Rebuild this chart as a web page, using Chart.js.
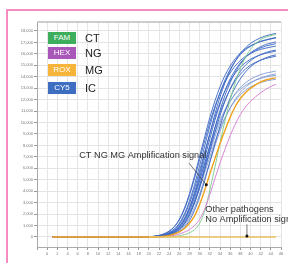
<!DOCTYPE html>
<html>
<head>
<meta charset="utf-8">
<script src="https://cdn.jsdelivr.net/npm/chart.js@4.4.1/dist/chart.umd.min.js"></script>
<style>
  html,body{margin:0;padding:0;background:#fff;width:288px;height:263px;overflow:hidden;}
  #frame{position:absolute;left:6px;top:9px;width:300px;height:270px;border-left:2px solid #f48cc2;border-top:2px solid #f48cc2;box-sizing:border-box;}
  #c{position:absolute;left:0;top:0;}
  .lg{position:absolute;left:48px;width:28px;height:12px;color:#fff;font:8px "Liberation Sans",Arial,sans-serif;line-height:12px;text-align:center;}
  .lt{position:absolute;left:85px;color:#222;font:11px "Liberation Sans",Arial,sans-serif;line-height:12px;}
</style>
</head>
<body>
<div id="frame"></div>
<canvas id="c" width="288" height="263"></canvas>
<div id="legend"></div>
<script>
// ---- data ----
const CYCLES = [1,20,21,22,23,24,25,26,27,28,29,30,31,32,33,34,35,36,37,38,39,40,41,42,43,44,45];
const X_TICK_START = -2, X_TICK_END = 46;
const Y_TICKS = [0,1000,2000,3000,4000,5000,6000,7000,8000,9000,10000,11000,12000,13000,14000,15000,16000,17000,18000];

const LEGEND_DYES = ["FAM","HEX","ROX","CY5"];
const LEGEND_TARGETS = ["CT","NG","MG","IC"];

// CY5 (IC) curves
const IC_1  = [0,21,62,134,267,493,874,1491,2416,3649,5140,6785,8430,10020,11410,12590,13570,14340,14960,15420,15780,16040,16240,16400,16500,16600,16680];
const IC_2  = [0,11,43,102,205,388,700,1206,2025,3156,4577,6247,7970,9690,11260,12600,13730,14650,15370,15930,16350,16670,16910,17100,17230,17340,17440];
const IC_3  = [0,10,40,95,190,360,650,1120,1890,2940,4260,5820,7420,9030,10480,11740,12790,13640,14310,14830,15230,15530,15750,15930,16050,16150,16240];
const IC_4  = [0,0,22,66,143,287,529,937,1600,2590,3910,5510,7270,9040,10740,12230,13500,14550,15370,16030,16530,16920,17190,17410,17580,17690,17800];
const IC_5  = [0,0,21,63,136,272,502,889,1520,2460,3710,5230,6900,8580,10200,11610,12810,13810,14590,15220,15690,16060,16320,16530,16680,16790,16890];
const IC_6  = [0,0,20,59,127,254,469,831,1420,2300,3470,4890,6450,8020,9540,10860,11980,12910,13640,14230,14670,15010,15260,15450,15600,15700,15800];
const IC_7  = [0,0,11,42,101,201,381,688,1190,1990,3100,4500,6140,7840,9530,11070,12390,13500,14400,15110,15660,16080,16390,16630,16820,16940,17050];
const IC_8  = [0,0,10,41,96,193,365,660,1140,1910,2970,4310,5890,7510,9140,10610,11880,12940,13800,14480,15010,15410,15710,15940,16120,16240,16340];
const IC_9  = [0,21,64,139,278,514,910,1550,2520,3800,5360,7070,8780,10440,11890,13120,14140,14940,15580,16070,16440,16710,16920,17080,17190,17300,17380];
const IC_10 = [0,0,0,20,59,129,258,476,842,1440,2330,3520,4960,6540,8130,9660,11000,12140,13080,13820,14420,14870,15210,15460,15660,15810,15910];
const IC_LOW_1 = [0,0,18,54,117,233,431,763,1300,2110,3190,4490,5930,7360,8760,9970,11000,11850,12530,13070,13470,13780,14010,14190,14320,14410,14500];
const IC_LOW_2 = [0,0,9,35,84,168,319,575,990,1660,2590,3760,5130,6550,7970,9250,10360,11280,12040,12630,13090,13430,13700,13900,14050,14160,14250];
const IC_LOW_3 = [0,9,35,83,166,314,567,978,1640,2560,3710,5060,6460,7860,9120,10210,11130,11870,12460,12910,13250,13510,13710,13860,13970,14060,14130];
const IC_LOW_4 = [0,0,17,51,111,222,410,726,1240,2010,3030,4270,5640,7000,8330,9480,10460,11270,11910,12430,12810,13110,13320,13490,13620,13710,13790];
// FAM (CT), HEX (NG), ROX (MG)
const CT_FAM = [0,0,0,0,0,20,50,110,200,360,650,1200,2300,4100,6100,8200,10200,12000,13500,14700,15700,16400,16900,17250,17450,17600,17700];
const NG_HEX = [0,0,0,0,30,70,140,260,430,650,1000,1550,2450,3700,5100,6450,7700,8850,9850,10700,11350,11850,12250,12600,12900,13150,13350];
const MG_ROX = [0,0,0,30,70,140,260,450,750,1200,1850,2850,4100,5500,6850,8150,9350,10450,11400,12100,12600,13000,13300,13550,13720,13830,13900];
// other pathogens: no amplification
const OTHER_CYCLES = [20,45];
const OTHER = [0,0];

const NOTE_TEXTS = ["CT NG MG Amplification signal","Other pathogens","No Amplification signal"];

// ---- legend (HTML) ----
const LEGEND_COLORS = ["#3cae5c","#a857b8","#f6b43a","#3d6ec2"];
const LEGEND_TOPS = [32,47,64,82];
const lg = document.getElementById('legend');
LEGEND_DYES.forEach((d,i)=>{
  const b=document.createElement('div'); b.className='lg'; b.style.top=LEGEND_TOPS[i]+'px'; b.style.background=LEGEND_COLORS[i]; b.textContent=d; lg.appendChild(b);
  const t=document.createElement('div'); t.className='lt'; t.style.top=LEGEND_TOPS[i]+'px'; t.textContent=LEGEND_TARGETS[i]; lg.appendChild(t);
});

// ---- chart ----
function pts(xs, ys){ return xs.map((x,i)=>({x:x,y:ys[i]})); }
const BLUE='rgba(58,102,196,0.9)', LIGHT='rgba(125,150,208,0.85)';
function ds(vals, color, w, xs){ return {data:pts(xs||CYCLES, vals), borderColor:color, borderWidth:w, pointRadius:0, fill:false, cubicInterpolationMode:'monotone'}; }

const datasets = [
  ds(OTHER,'#e9bf5e',1.3,OTHER_CYCLES),
  ds(MG_ROX,'#f0a21e',1.4),
  ds(NG_HEX,'#d987d6',1),
  ds(CT_FAM,'#86cf94',1),
  ds(IC_1,BLUE,1), ds(IC_2,BLUE,1), ds(IC_3,BLUE,1), ds(IC_4,BLUE,1), ds(IC_5,BLUE,1),
  ds(IC_6,BLUE,1), ds(IC_7,BLUE,1), ds(IC_8,BLUE,1), ds(IC_9,BLUE,1), ds(IC_10,BLUE,1),
  ds(IC_LOW_1,LIGHT,1), ds(IC_LOW_2,LIGHT,1), ds(IC_LOW_3,LIGHT,1), ds(IC_LOW_4,LIGHT,1)
];

const notesPlugin = {
  id:'notes',
  afterDatasetsDraw(chart, args, opts){
    const ctx=chart.ctx, xs=chart.scales.x, ys=chart.scales.y, a=chart.chartArea;
    ctx.save();
    // top frame line
    ctx.strokeStyle='#bdbdbd'; ctx.lineWidth=1.5;
    ctx.beginPath(); ctx.moveTo(a.left,a.top); ctx.lineTo(a.right,a.top); ctx.stroke();
    ctx.fillStyle='#333'; ctx.font='9.2px "Liberation Sans", Arial, sans-serif'; ctx.textBaseline='middle';
    opts.texts.forEach(t=>{ ctx.fillText(NOTE_TEXTS[t.i], xs.getPixelForValue(t.x), ys.getPixelForValue(t.y)); });
    ctx.strokeStyle='#555'; ctx.lineWidth=0.8;
    opts.arrows.forEach(r=>{
      const x1=xs.getPixelForValue(r.x1), y1=ys.getPixelForValue(r.y1), x2=xs.getPixelForValue(r.x2), y2=ys.getPixelForValue(r.y2);
      ctx.beginPath(); ctx.moveTo(x1,y1); ctx.lineTo(x2,y2); ctx.stroke();
      ctx.fillStyle='#111'; ctx.beginPath(); ctx.arc(x2,y2,1.5,0,Math.PI*2); ctx.fill();
    });
    ctx.restore();
  }
};

new Chart(document.getElementById('c'), {
  type:'line',
  data:{datasets},
  plugins:[notesPlugin],
  options:{
    responsive:false, animation:false, devicePixelRatio:1,
    layout:{padding:{top:22,right:7,left:0,bottom:0}},
    plugins:{
      legend:{display:false}, tooltip:{enabled:false},
      notes:{
        texts:[{i:0,x:6.3,y:7100},{i:1,x:31.1,y:2420},{i:2,x:31.1,y:1530}],
        arrows:[{x1:27.9,y1:6450,x2:31.3,y2:4560},{x1:39.3,y1:1100,x2:39.3,y2:80}]
      }
    },
    scales:{
      x:{type:'linear', min:X_TICK_START, max:X_TICK_END,
        afterFit(s){ s.height=16; },
        ticks:{stepSize:2, autoSkip:false, maxRotation:0, font:{size:4}, color:'#777', padding:1,
          callback:(v)=> v===X_TICK_START ? '' : String(v)},
        grid:{color:'#e4e4e4', lineWidth:1, tickColor:'#999', tickLength:3},
        border:{color:'#aaa', width:1}
      },
      y:{type:'linear', min:-874, max:18786,
        afterFit(s){ s.width=37; },
        afterBuildTicks(s){ s.ticks = Y_TICKS.map(v=>({value:v})); },
        ticks:{font:{size:4}, color:'#777', padding:1},
        grid:{color:'#e4e4e4', lineWidth:1, tickColor:'#999', tickLength:3},
        border:{color:'#aaa', width:1}
      }
    }
  }
});
</script>
</body>
</html>
